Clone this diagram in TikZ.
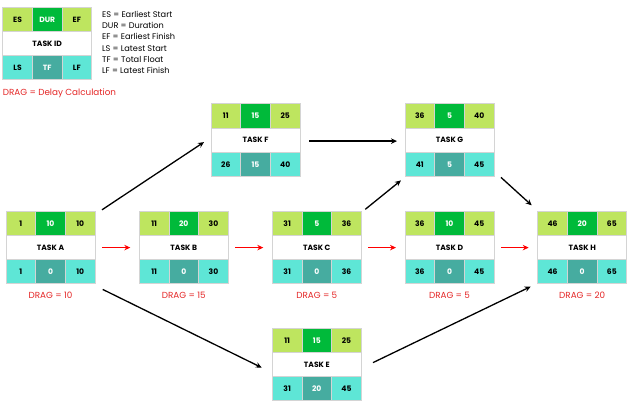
\documentclass[tikz,border=0pt]{standalone}
\usepackage{fontspec}
\setmainfont{Poppins}
\usetikzlibrary{positioning,arrows.meta}
\definecolor{esgreen}{RGB}{190,229,95}
\definecolor{durgreen}{RGB}{0,186,58}
\definecolor{lscyan}{RGB}{94,230,214}
\definecolor{tfteal}{RGB}{70,172,160}
\definecolor{cellline}{RGB}{212,212,212}
\definecolor{dragred}{RGB}{228,38,38}
\tikzset{
  cell/.style={draw=cellline, line width=0.9pt, minimum width=29.67pt, minimum height=24.2pt,
    inner sep=0pt, outer sep=0pt, font=\fontsize{7.6}{8}\selectfont\bfseries},
  idcell/.style={cell, fill=white, minimum width=89pt},
  taskbox/.style={minimum width=89pt, minimum height=72.6pt, inner sep=0pt, outer sep=0pt},
  drag/.style={text=dragred, inner sep=0pt, font=\fontsize{8.8}{9}\selectfont},
  link/.style={-{Stealth[length=6pt,width=5.5pt]}, line width=1.3pt},
}
\begin{document}
\begin{tikzpicture}[x=1pt,y=-1pt]
  \useasboundingbox (0,0) rectangle (635,405);
  \foreach \n/\x/\y/\es/\du/\ef/\id/\ls/\tf/\lf in {
      key/2.7/7.3/ES/DUR/EF/TASK ID/LS/TF/LF,
      A/6/211.3/1/10/10/TASK A/1/0/10,
      B/139.3/211.3/11/20/30/TASK B/11/0/30,
      C/272.3/211.3/31/5/36/TASK C/31/0/36,
      D/405/211.3/36/10/45/TASK D/36/0/45,
      H/537.7/211.3/46/20/65/TASK H/46/0/65,
      F/211/103.8/11/15/25/TASK F/26/15/40,
      G/405/103.8/36/5/40/TASK G/41/5/45,
      E/272.3/328.3/11/15/25/TASK E/31/20/45} {
    \node[taskbox, anchor=north west] (\n) at (\x,\y) {};
    \node[cell, fill=esgreen, anchor=north west] (\n-es) at (\n.north west) {\es};
    \node[cell, fill=durgreen, text=white, right=0pt of \n-es] (\n-du) {\du};
    \node[cell, fill=esgreen, right=0pt of \n-du] (\n-ef) {\ef};
    \node[idcell, anchor=north west] (\n-id) at (\n-es.south west) {\id};
    \node[cell, fill=lscyan, anchor=north west] (\n-ls) at (\n-id.south west) {\ls};
    \node[cell, fill=tfteal, text=white, right=0pt of \n-ls] (\n-tf) {\tf};
    \node[cell, fill=lscyan, right=0pt of \n-tf] (\n-lf) {\lf};
  }
  \node[anchor=north west, align=left, inner sep=0pt, font=\fontsize{8.2}{11.1}\selectfont]
    (keytext) at (102,11.3) {ES = Earliest Start\\DUR = Duration\\EF = Earliest Finish\\
    LS = Latest Start\\TF = Total Float\\LF = Latest Finish};
  \node[drag, anchor=north west] (keydrag) at ([shift={(0,8.5)}]key.south west) {DRAG = Delay Calculation};
  \node[drag, below=8pt of A] (A-drag) {DRAG = 10};
  \node[drag, below=8pt of B] (B-drag) {DRAG = 15};
  \node[drag, below=8pt of C] (C-drag) {DRAG = 5};
  \node[drag, below=8pt of D] (D-drag) {DRAG = 5};
  \node[drag, below=8pt of H] (H-drag) {DRAG = 20};
  \begin{scope}[link]
    \draw ([shift={(7,-1.5)}]A.north east) to ([shift={(-7,2)}]F.west);
    \draw ([shift={(7.7,5.5)}]A.south east) to ([shift={(-10.6,3)}]E.west);
    \draw ([shift={(9,1)}]F.east) to ([shift={(-8,1)}]G.west);
    \draw ([shift={(4,-2)}]C.north east) to ([shift={(-4,4)}]G.south west);
    \draw ([shift={(7,1)}]G.south east) to ([shift={(-6,-6)}]H.north west);
    \draw ([shift={(11.7,-2)}]E.east) to ([shift={(-7,2.7)}]H.south west);
  \end{scope}
  \begin{scope}[link, red]
    \draw ([xshift=7pt]A.east) to ([xshift=-9pt]B.west);
    \draw ([xshift=7pt]B.east) to ([xshift=-9pt]C.west);
    \draw ([xshift=7pt]C.east) to ([xshift=-9pt]D.west);
    \draw ([xshift=7pt]D.east) to ([xshift=-9pt]H.west);
  \end{scope}
\end{tikzpicture}
\end{document}
